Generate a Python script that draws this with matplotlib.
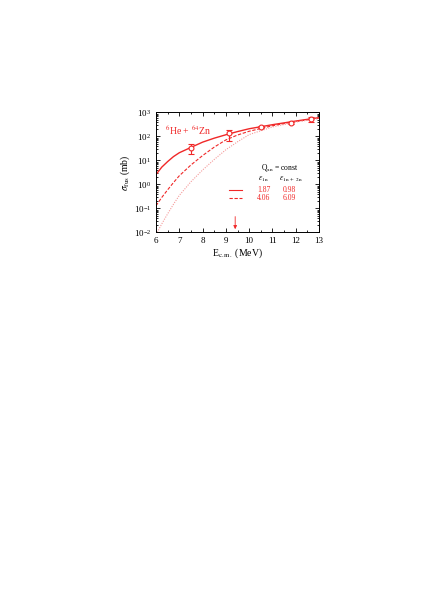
import matplotlib
matplotlib.use("Agg")
import matplotlib.pyplot as plt

plt.rcParams["font.family"] = ["Liberation Serif", "DejaVu Serif"]
plt.rcParams["mathtext.fontset"] = "stix"

RED = "#f02828"
PINK = "#f59a9a"

# calculated curves
e_solid = [6.0, 6.25, 6.5, 6.75, 7.0, 7.5, 8.0, 8.5, 9.0, 9.5, 10.0, 11.0, 12.0, 13.0]
s_solid = [2.6, 5.3, 9, 14.5, 21, 35, 58, 85, 118, 160, 210, 310, 440, 610]

e_dash = [6.0, 6.25, 6.5, 6.75, 7.0, 7.5, 8.0, 8.5, 9.0, 9.5, 10.0, 11.0, 12.0, 13.0]
s_dash = [0.13, 0.29, 0.6, 1.2, 2.3, 6.5, 16, 36, 72, 115, 165, 280, 420, 580]

e_dot = [6.05, 6.25, 6.5, 6.75, 7.0, 7.5, 8.0, 8.5, 9.0, 9.5, 10.0, 11.0, 12.0, 13.0]
s_dot = [0.01, 0.023, 0.06, 0.15, 0.35, 1.3, 4, 11, 28, 60, 120, 250, 400, 560]

# measured points
e_exp = [7.5, 9.15, 10.52, 11.8, 12.65]
s_exp = [33, 140, 250, 360, 520]
s_lo = [18, 65, 220, 320, 420]
s_hi = [50, 180, 280, 400, 640]

# legend table
eps_1n = ["1.87", "4.06"]
eps_2n = ["0.98", "6.09"]

fig = plt.figure(figsize=(4.36, 6.16), dpi=100)
ax = fig.add_axes([0.3578, 0.6226, 0.3739, 0.1948])

DASH = (0, (3, 1.5))
ax.plot(e_solid, s_solid, color=RED, lw=1.0)
ax.plot(e_dash, s_dash, color=RED, lw=0.8, ls=DASH)
ax.plot(e_dot, s_dot, color=PINK, lw=0.8, ls=(0, (1, 1.2)))

yerr = [[s - l for s, l in zip(s_exp, s_lo)], [h - s for s, h in zip(s_exp, s_hi)]]
ax.errorbar(e_exp, s_exp, yerr=yerr, fmt="o", ms=3.5, mfc="white", mec=RED,
            ecolor=RED, elinewidth=0.8, capsize=2, capthick=0.8, mew=0.8)

ax.annotate("", xy=(9.4, 0.0105), xytext=(9.4, 0.06),
            arrowprops=dict(arrowstyle="-|>", color=RED, lw=0.6,
                            mutation_scale=5))

ax.set_yscale("log")
ax.set_xlim(6, 13)
ax.set_ylim(1e-2, 1e3)
ax.set_xticks(range(6, 14))
ax.set_xticks([x + 0.5 for x in range(6, 13)], minor=True)
ax.tick_params(which="both", direction="in", top=True, right=True,
               labelsize=6.5, width=0.6)
ax.tick_params(which="major", length=3)
ax.tick_params(which="minor", length=1.6)
for s in ax.spines.values():
    s.set_linewidth(0.7)

ax.set_xlabel(r"E$_{\rm c.m.}$ (MeV)", fontsize=7, labelpad=1)
ax.set_ylabel(r"$\sigma_{\rm fus}$ (mb)", fontsize=7, labelpad=1)

ax.text(6.4, 180, r"$^{6}$He + $^{64}$Zn", color=RED, fontsize=7, va="center")

# table legend
ax.text(0.76, 0.54, r"Q$_{\rm xn}$ = const", transform=ax.transAxes,
        fontsize=5.5, ha="center", va="center")
ax.text(0.66, 0.445, r"$\varepsilon_{\rm 1n}$", transform=ax.transAxes,
        fontsize=5.5, ha="center", va="center")
ax.text(0.83, 0.445, r"$\varepsilon_{\rm 1n\ +\ 2n}$", transform=ax.transAxes,
        fontsize=5.5, ha="center", va="center")
row_y = [0.355, 0.29]
row_ls = ["-", DASH]
for i in range(2):
    ax.plot([0.45, 0.53], [row_y[i], row_y[i]], transform=ax.transAxes,
            color=RED, lw=0.8, ls=row_ls[i])
    ax.text(0.66, row_y[i], eps_1n[i], transform=ax.transAxes, color=RED,
            fontsize=5.5, ha="center", va="center")
    ax.text(0.82, row_y[i], eps_2n[i], transform=ax.transAxes, color=RED,
            fontsize=5.5, ha="center", va="center")

fig.savefig("out.png", dpi=100)
